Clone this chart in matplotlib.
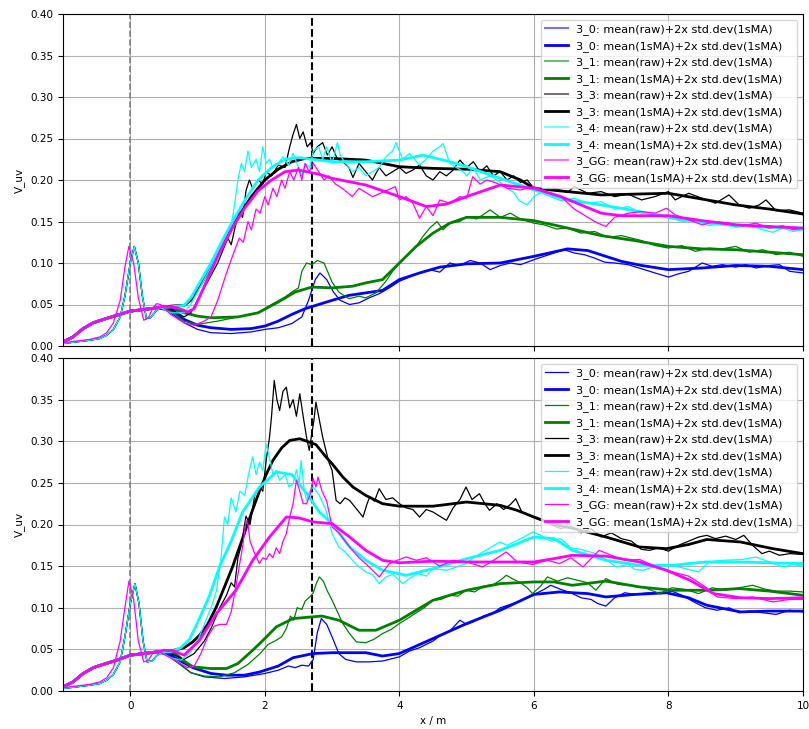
import matplotlib
matplotlib.use('Agg')
import matplotlib.pyplot as plt
import numpy as np

names = ['3_0', '3_1', '3_3', '3_4', '3_GG']
colors = ['blue', 'green', 'black', 'cyan', 'magenta']
x_marks = [0.0, 2.7]

# ---------------- upper panel ----------------
top_start_ma = [(-1.0, 0.005), (-0.85, 0.011), (-0.7, 0.021), (-0.55, 0.028), (-0.4, 0.032), (-0.2, 0.037),
                (0.0, 0.042), (0.2, 0.044), (0.4, 0.046)]
top_start_raw = [(-1.0, 0.003), (-0.8, 0.005), (-0.6, 0.007), (-0.45, 0.009), (-0.35, 0.013), (-0.25, 0.02),
                 (-0.15, 0.035), (-0.08, 0.06), (0.0, 0.1), (0.06, 0.12), (0.12, 0.1), (0.18, 0.06), (0.24, 0.033),
                 (0.3, 0.034), (0.38, 0.042), (0.45, 0.046)]
top_start_raw_gg = [(-1.0, 0.004), (-0.8, 0.006), (-0.6, 0.008), (-0.45, 0.011), (-0.35, 0.016), (-0.25, 0.028),
                    (-0.15, 0.055), (-0.08, 0.095), (-0.02, 0.12), (0.05, 0.1), (0.12, 0.058), (0.2, 0.031),
                    (0.27, 0.034), (0.33, 0.045), (0.39, 0.051)]

top_3_0_ma = [(0.6, 0.043), (0.8, 0.032), (1.0, 0.025), (1.2, 0.022), (1.5, 0.02), (1.8, 0.021), (2.0, 0.024),
              (2.2, 0.03), (2.4, 0.038), (2.6, 0.045), (2.8, 0.05), (3.0, 0.055), (3.25, 0.061), (3.5, 0.064),
              (3.75, 0.067), (4.0, 0.08), (4.3, 0.088), (4.6, 0.095), (5.0, 0.099), (5.5, 0.1), (6.0, 0.108),
              (6.5, 0.117), (6.8, 0.115), (7.3, 0.102), (7.6, 0.097), (8.0, 0.092), (8.5, 0.094), (9.0, 0.097),
              (9.5, 0.096), (10.0, 0.092)]
top_3_0_raw = [(0.6, 0.04), (0.8, 0.028), (1.0, 0.02), (1.2, 0.016), (1.5, 0.015), (1.8, 0.017), (2.0, 0.02),
               (2.2, 0.022), (2.4, 0.027), (2.55, 0.035), (2.65, 0.055), (2.75, 0.08), (2.82, 0.088), (2.92, 0.08),
               (3.02, 0.065), (3.12, 0.055), (3.26, 0.05), (3.4, 0.052), (3.55, 0.058), (3.7, 0.063), (3.85, 0.07),
               (4.0, 0.078), (4.15, 0.083), (4.3, 0.088), (4.45, 0.092), (4.6, 0.089), (4.75, 0.1), (4.9, 0.097),
               (5.05, 0.103), (5.2, 0.1), (5.35, 0.092), (5.5, 0.097), (5.65, 0.1), (5.8, 0.098), (6.0, 0.104),
               (6.15, 0.108), (6.3, 0.112), (6.45, 0.116), (6.6, 0.112), (6.75, 0.11), (6.9, 0.106), (7.05, 0.101),
               (7.2, 0.1), (7.4, 0.098), (7.6, 0.093), (7.8, 0.088), (8.0, 0.083), (8.15, 0.087), (8.3, 0.09),
               (8.5, 0.1), (8.65, 0.096), (8.8, 0.098), (9.0, 0.095), (9.15, 0.098), (9.3, 0.094), (9.5, 0.097),
               (9.65, 0.098), (9.8, 0.09), (10.0, 0.088)]

top_3_1_ma = [(0.6, 0.046), (0.8, 0.04), (1.0, 0.036), (1.2, 0.034), (1.6, 0.035), (1.9, 0.04), (2.2, 0.053),
              (2.45, 0.065), (2.7, 0.071), (3.0, 0.07), (3.3, 0.072), (3.5, 0.076), (3.75, 0.08), (4.0, 0.1),
              (4.25, 0.12), (4.5, 0.136), (4.75, 0.148), (5.0, 0.155), (5.5, 0.155), (6.0, 0.151), (6.4, 0.144),
              (7.0, 0.133), (7.5, 0.127), (8.0, 0.12), (8.5, 0.117), (9.0, 0.116), (9.5, 0.113), (10.0, 0.11)]
top_3_1_raw = [(0.6, 0.042), (0.8, 0.03), (1.0, 0.026), (1.3, 0.03), (1.6, 0.035), (1.9, 0.04), (2.1, 0.05),
               (2.3, 0.059), (2.42, 0.066), (2.5, 0.07), (2.55, 0.09), (2.62, 0.1), (2.7, 0.098), (2.78, 0.103),
               (2.88, 0.1), (3.0, 0.077), (3.1, 0.065), (3.25, 0.057), (3.4, 0.06), (3.5, 0.058), (3.65, 0.064),
               (3.8, 0.078), (3.9, 0.09), (4.0, 0.1), (4.1, 0.108), (4.25, 0.12), (4.35, 0.132), (4.45, 0.142),
               (4.56, 0.15), (4.65, 0.14), (4.75, 0.148), (4.9, 0.15), (5.0, 0.156), (5.15, 0.153), (5.35, 0.164),
               (5.5, 0.155), (5.65, 0.16), (5.8, 0.153), (6.0, 0.148), (6.15, 0.146), (6.33, 0.141), (6.5, 0.142),
               (6.7, 0.136), (6.9, 0.138), (7.1, 0.131), (7.3, 0.133), (7.6, 0.127), (7.8, 0.121), (8.0, 0.118),
               (8.2, 0.121), (8.4, 0.114), (8.6, 0.118), (8.8, 0.117), (9.0, 0.12), (9.2, 0.113), (9.4, 0.116),
               (9.6, 0.11), (9.8, 0.113), (10.0, 0.108)]

top_3_3_ma = [(0.6, 0.048), (0.8, 0.049), (0.9, 0.055), (1.0, 0.068), (1.2, 0.095), (1.4, 0.125), (1.6, 0.155),
              (1.8, 0.18), (2.0, 0.2), (2.2, 0.213), (2.4, 0.222), (2.6, 0.226), (2.8, 0.226), (3.0, 0.226),
              (3.5, 0.224), (4.0, 0.216), (4.5, 0.214), (5.0, 0.213), (5.5, 0.21), (5.8, 0.2), (6.0, 0.19),
              (6.5, 0.186), (7.0, 0.182), (7.5, 0.183), (8.0, 0.184), (8.5, 0.177), (9.0, 0.17), (9.5, 0.165),
              (10.0, 0.159)]
top_3_3_raw = [(0.6, 0.045), (0.8, 0.035), (0.9, 0.04), (1.0, 0.055), (1.1, 0.07), (1.2, 0.085), (1.3, 0.1),
               (1.4, 0.12), (1.45, 0.13), (1.5, 0.122), (1.55, 0.14), (1.62, 0.163), (1.67, 0.155), (1.72, 0.187),
               (1.77, 0.2), (1.82, 0.19), (1.9, 0.2), (1.97, 0.195), (2.02, 0.21), (2.1, 0.205), (2.2, 0.218),
               (2.3, 0.215), (2.37, 0.24), (2.42, 0.255), (2.47, 0.267), (2.52, 0.25), (2.57, 0.258), (2.63, 0.24),
               (2.68, 0.245), (2.72, 0.232), (2.78, 0.24), (2.86, 0.245), (2.93, 0.23), (3.0, 0.24), (3.08, 0.225),
               (3.16, 0.222), (3.25, 0.215), (3.31, 0.203), (3.4, 0.22), (3.5, 0.21), (3.6, 0.2), (3.7, 0.215),
               (3.8, 0.205), (3.9, 0.21), (4.0, 0.215), (4.1, 0.208), (4.2, 0.212), (4.3, 0.218), (4.4, 0.205),
               (4.5, 0.2), (4.6, 0.21), (4.7, 0.205), (4.8, 0.212), (4.9, 0.224), (5.0, 0.215), (5.1, 0.222),
               (5.2, 0.21), (5.3, 0.217), (5.4, 0.205), (5.5, 0.21), (5.6, 0.2), (5.7, 0.205), (5.8, 0.197),
               (5.9, 0.2), (6.0, 0.19), (6.1, 0.188), (6.3, 0.19), (6.5, 0.185), (6.6, 0.192), (6.8, 0.184),
               (7.0, 0.186), (7.2, 0.18), (7.4, 0.183), (7.6, 0.176), (7.8, 0.18), (8.0, 0.186), (8.1, 0.176),
               (8.3, 0.184), (8.5, 0.178), (8.7, 0.172), (8.9, 0.182), (9.05, 0.17), (9.2, 0.166), (9.35, 0.17),
               (9.45, 0.176), (9.6, 0.163), (9.8, 0.164), (10.0, 0.16)]

top_3_4_ma = [(0.6, 0.047), (0.8, 0.049), (0.9, 0.058), (1.0, 0.072), (1.2, 0.1), (1.4, 0.132), (1.52, 0.15),
              (1.7, 0.175), (1.9, 0.2), (2.1, 0.215), (2.3, 0.225), (2.5, 0.227), (2.7, 0.225), (3.0, 0.222),
              (3.5, 0.222), (4.0, 0.224), (4.35, 0.23), (4.75, 0.222), (5.0, 0.216), (5.5, 0.202), (6.0, 0.188),
              (6.5, 0.176), (7.0, 0.17), (7.5, 0.163), (8.0, 0.155), (8.5, 0.149), (9.0, 0.145), (9.5, 0.143),
              (10.0, 0.142)]
top_3_4_raw = [(0.6, 0.04), (0.8, 0.04), (0.9, 0.05), (1.0, 0.065), (1.2, 0.095), (1.4, 0.13), (1.5, 0.145),
               (1.55, 0.17), (1.6, 0.2), (1.65, 0.22), (1.7, 0.21), (1.75, 0.235), (1.8, 0.215), (1.87, 0.225),
               (1.92, 0.21), (1.97, 0.24), (2.02, 0.22), (2.07, 0.225), (2.12, 0.215), (2.2, 0.22), (2.27, 0.228),
               (2.35, 0.218), (2.42, 0.232), (2.5, 0.215), (2.55, 0.205), (2.6, 0.22), (2.67, 0.215), (2.72, 0.235),
               (2.8, 0.24), (2.86, 0.225), (2.92, 0.24), (3.0, 0.22), (3.08, 0.245), (3.12, 0.23), (3.2, 0.22),
               (3.3, 0.21), (3.4, 0.215), (3.5, 0.205), (3.6, 0.21), (3.7, 0.215), (3.8, 0.228), (3.9, 0.235),
               (3.95, 0.245), (4.05, 0.225), (4.15, 0.232), (4.3, 0.218), (4.4, 0.225), (4.5, 0.235), (4.6, 0.24),
               (4.65, 0.244), (4.75, 0.22), (4.85, 0.215), (4.95, 0.21), (5.0, 0.205), (5.1, 0.215), (5.2, 0.2),
               (5.35, 0.205), (5.5, 0.197), (5.6, 0.19), (5.7, 0.185), (5.78, 0.175), (5.9, 0.17), (6.0, 0.18),
               (6.1, 0.185), (6.25, 0.18), (6.4, 0.175), (6.6, 0.178), (6.8, 0.172), (7.0, 0.174), (7.2, 0.165),
               (7.4, 0.168), (7.6, 0.16), (7.8, 0.158), (8.0, 0.155), (8.2, 0.15), (8.4, 0.152), (8.6, 0.145),
               (8.8, 0.148), (9.0, 0.143), (9.2, 0.146), (9.4, 0.14), (9.55, 0.137), (9.7, 0.142), (9.85, 0.138),
               (10.0, 0.14)]

top_3_gg_ma = [(0.5, 0.048), (0.7, 0.046), (0.85, 0.041), (0.95, 0.045), (1.1, 0.072), (1.3, 0.108), (1.5, 0.14),
               (1.7, 0.166), (1.9, 0.187), (2.1, 0.2), (2.3, 0.21), (2.5, 0.212), (2.8, 0.207), (3.0, 0.202),
               (3.5, 0.194), (4.0, 0.18), (4.4, 0.168), (4.7, 0.171), (5.0, 0.18), (5.5, 0.194), (6.0, 0.19),
               (6.4, 0.18), (6.7, 0.17), (7.0, 0.16), (7.3, 0.157), (8.0, 0.157), (8.5, 0.151), (9.0, 0.146),
               (9.5, 0.144), (10.0, 0.142)]
top_3_gg_raw = [(0.45, 0.05), (0.6, 0.038), (0.8, 0.028), (0.95, 0.025), (1.1, 0.03), (1.2, 0.035), (1.3, 0.055),
                (1.43, 0.088), (1.55, 0.115), (1.62, 0.13), (1.68, 0.125), (1.75, 0.15), (1.8, 0.14), (1.87, 0.165),
                (1.93, 0.16), (2.0, 0.18), (2.05, 0.17), (2.12, 0.19), (2.18, 0.18), (2.25, 0.2), (2.3, 0.19),
                (2.37, 0.21), (2.43, 0.2), (2.5, 0.215), (2.55, 0.2), (2.6, 0.22), (2.66, 0.21), (2.72, 0.22),
                (2.8, 0.21), (2.88, 0.2), (2.95, 0.205), (3.05, 0.195), (3.15, 0.19), (3.3, 0.18), (3.4, 0.19),
                (3.5, 0.185), (3.6, 0.18), (3.75, 0.185), (3.94, 0.192), (4.0, 0.176), (4.1, 0.18), (4.2, 0.172),
                (4.3, 0.154), (4.4, 0.168), (4.5, 0.157), (4.6, 0.176), (4.75, 0.172), (4.9, 0.18), (5.0, 0.178),
                (5.09, 0.204), (5.2, 0.195), (5.3, 0.2), (5.45, 0.196), (5.6, 0.19), (5.8, 0.188), (6.0, 0.192),
                (6.2, 0.185), (6.4, 0.18), (6.6, 0.165), (6.8, 0.155), (6.95, 0.148), (7.07, 0.144), (7.2, 0.155),
                (7.4, 0.16), (7.6, 0.162), (7.8, 0.16), (7.97, 0.166), (8.1, 0.158), (8.3, 0.152), (8.5, 0.146),
                (8.7, 0.15), (8.9, 0.148), (9.1, 0.145), (9.3, 0.148), (9.5, 0.142), (9.7, 0.145), (9.85, 0.14),
                (10.0, 0.142)]

# ---------------- lower panel ----------------
bot_start_ma = [(-1.0, 0.005), (-0.85, 0.011), (-0.7, 0.021), (-0.55, 0.028), (-0.4, 0.032), (-0.2, 0.037),
                (0.0, 0.043), (0.2, 0.045), (0.4, 0.047)]
bot_start_raw = [(-1.0, 0.003), (-0.8, 0.005), (-0.6, 0.007), (-0.45, 0.009), (-0.35, 0.013), (-0.25, 0.02),
                 (-0.15, 0.035), (-0.08, 0.065), (0.0, 0.105), (0.07, 0.129), (0.13, 0.105), (0.19, 0.06),
                 (0.25, 0.035), (0.32, 0.036), (0.4, 0.043), (0.47, 0.046)]
bot_start_raw_gg = [(-1.0, 0.004), (-0.8, 0.006), (-0.6, 0.008), (-0.45, 0.011), (-0.35, 0.016), (-0.25, 0.028),
                    (-0.15, 0.06), (-0.08, 0.1), (-0.02, 0.132), (0.05, 0.11), (0.12, 0.06), (0.2, 0.035),
                    (0.27, 0.037), (0.33, 0.045), (0.42, 0.048)]

bot_3_0_ma = [(0.6, 0.043), (0.75, 0.036), (0.93, 0.028), (1.2, 0.021), (1.43, 0.019), (1.7, 0.019), (1.93, 0.023),
              (2.2, 0.03), (2.42, 0.04), (2.72, 0.045), (3.0, 0.046), (3.5, 0.046), (3.75, 0.042), (4.0, 0.045),
              (4.25, 0.054), (4.5, 0.063), (5.0, 0.081), (5.5, 0.097), (6.0, 0.116), (6.38, 0.119), (6.8, 0.117),
              (7.07, 0.113), (7.5, 0.116), (7.97, 0.118), (8.3, 0.112), (8.57, 0.103), (9.07, 0.095), (9.5, 0.096),
              (10.0, 0.096)]
bot_3_0_raw = [(0.6, 0.04), (0.75, 0.032), (0.9, 0.022), (1.1, 0.017), (1.4, 0.015), (1.7, 0.017), (2.0, 0.021),
               (2.2, 0.025), (2.35, 0.03), (2.45, 0.028), (2.55, 0.031), (2.65, 0.03), (2.72, 0.038), (2.78, 0.07),
               (2.84, 0.087), (2.92, 0.08), (3.0, 0.065), (3.1, 0.045), (3.2, 0.038), (3.36, 0.035), (3.55, 0.035),
               (3.75, 0.036), (4.0, 0.041), (4.15, 0.048), (4.3, 0.052), (4.5, 0.06), (4.6, 0.066), (4.75, 0.072),
               (4.9, 0.085), (5.0, 0.08), (5.1, 0.083), (5.25, 0.09), (5.4, 0.094), (5.5, 0.1), (5.65, 0.104),
               (5.8, 0.108), (6.0, 0.116), (6.15, 0.122), (6.25, 0.127), (6.4, 0.122), (6.55, 0.118), (6.7, 0.112),
               (6.85, 0.11), (6.95, 0.105), (7.07, 0.102), (7.2, 0.112), (7.35, 0.118), (7.5, 0.116), (7.7, 0.118),
               (7.9, 0.117), (8.05, 0.12), (8.2, 0.115), (8.4, 0.106), (8.55, 0.1), (8.72, 0.097), (8.9, 0.1),
               (9.05, 0.094), (9.2, 0.096), (9.4, 0.094), (9.6, 0.092), (9.8, 0.097), (10.0, 0.095)]

bot_3_1_ma = [(0.55, 0.047), (0.67, 0.045), (0.8, 0.036), (0.93, 0.029), (1.2, 0.027), (1.43, 0.027), (1.6, 0.033),
              (1.82, 0.049), (2.0, 0.063), (2.17, 0.077), (2.42, 0.087), (2.7, 0.089), (2.85, 0.09), (3.1, 0.085),
              (3.4, 0.073), (3.65, 0.073), (4.0, 0.085), (4.5, 0.109), (5.0, 0.121), (5.5, 0.129), (6.0, 0.131),
              (6.3, 0.131), (6.57, 0.127), (7.07, 0.132), (7.57, 0.125), (8.06, 0.121), (8.6, 0.121), (9.05, 0.123),
              (9.5, 0.12), (10.0, 0.115)]
bot_3_1_raw = [(0.6, 0.04), (0.75, 0.031), (0.9, 0.022), (1.1, 0.018), (1.33, 0.017), (1.55, 0.022), (1.75, 0.032),
               (1.93, 0.045), (2.05, 0.056), (2.15, 0.06), (2.25, 0.065), (2.32, 0.075), (2.38, 0.09), (2.43, 0.085),
               (2.48, 0.1), (2.55, 0.098), (2.6, 0.108), (2.67, 0.113), (2.72, 0.118), (2.77, 0.13), (2.81, 0.137),
               (2.87, 0.132), (2.93, 0.12), (3.0, 0.109), (3.08, 0.095), (3.16, 0.081), (3.25, 0.07), (3.36, 0.059),
               (3.5, 0.058), (3.62, 0.062), (3.75, 0.069), (3.88, 0.074), (4.0, 0.081), (4.12, 0.087), (4.25, 0.094),
               (4.37, 0.1), (4.5, 0.109), (4.62, 0.11), (4.75, 0.115), (4.87, 0.114), (4.99, 0.121), (5.12, 0.119),
               (5.25, 0.126), (5.4, 0.128), (5.5, 0.133), (5.59, 0.139), (5.7, 0.134), (5.8, 0.13), (5.9, 0.124),
               (5.98, 0.117), (6.1, 0.126), (6.2, 0.137), (6.35, 0.132), (6.5, 0.136), (6.65, 0.133), (6.8, 0.13),
               (6.92, 0.121), (7.07, 0.135), (7.25, 0.128), (7.45, 0.127), (7.65, 0.124), (7.87, 0.117),
               (8.05, 0.124), (8.25, 0.122), (8.45, 0.117), (8.65, 0.124), (8.85, 0.121), (9.05, 0.124),
               (9.25, 0.127), (9.45, 0.122), (9.6, 0.12), (9.8, 0.12), (10.0, 0.119)]

bot_3_3_ma = [(0.6, 0.048), (0.8, 0.052), (0.93, 0.059), (1.03, 0.067), (1.15, 0.08), (1.28, 0.101), (1.4, 0.125),
              (1.52, 0.149), (1.62, 0.172), (1.72, 0.195), (1.82, 0.218), (1.92, 0.24), (2.02, 0.26), (2.12, 0.277),
              (2.25, 0.292), (2.37, 0.301), (2.52, 0.303), (2.66, 0.299), (2.76, 0.296), (2.91, 0.281),
              (3.0, 0.273), (3.16, 0.257), (3.31, 0.245), (3.5, 0.235), (3.75, 0.225), (4.0, 0.222), (4.5, 0.222),
              (5.0, 0.227), (5.25, 0.225), (5.5, 0.223), (5.75, 0.217), (6.0, 0.209), (6.3, 0.2), (6.6, 0.195),
              (7.07, 0.185), (7.57, 0.173), (7.97, 0.171), (8.3, 0.176), (8.57, 0.182), (9.07, 0.179),
              (9.55, 0.171), (10.0, 0.165)]
bot_3_3_raw = [(0.6, 0.045), (0.8, 0.038), (0.95, 0.045), (1.1, 0.06), (1.2, 0.075), (1.33, 0.1), (1.43, 0.115),
               (1.5, 0.13), (1.55, 0.125), (1.6, 0.16), (1.65, 0.175), (1.72, 0.21), (1.78, 0.2), (1.85, 0.235),
               (1.92, 0.245), (1.97, 0.24), (2.02, 0.277), (2.07, 0.305), (2.1, 0.33), (2.14, 0.373), (2.18, 0.35),
               (2.22, 0.337), (2.27, 0.36), (2.32, 0.365), (2.37, 0.34), (2.42, 0.35), (2.47, 0.33), (2.52, 0.357),
               (2.57, 0.33), (2.62, 0.305), (2.66, 0.289), (2.7, 0.31), (2.73, 0.325), (2.76, 0.347), (2.8, 0.33),
               (2.86, 0.305), (2.92, 0.285), (2.96, 0.273), (3.0, 0.265), (3.06, 0.229), (3.12, 0.225),
               (3.19, 0.232), (3.26, 0.229), (3.33, 0.222), (3.4, 0.215), (3.46, 0.209), (3.52, 0.225),
               (3.56, 0.233), (3.63, 0.228), (3.7, 0.243), (3.8, 0.23), (3.9, 0.232), (4.0, 0.225), (4.1, 0.22),
               (4.2, 0.218), (4.3, 0.209), (4.4, 0.218), (4.5, 0.215), (4.6, 0.21), (4.7, 0.205), (4.8, 0.22),
               (4.9, 0.23), (4.99, 0.245), (5.08, 0.23), (5.19, 0.237), (5.27, 0.225), (5.34, 0.217),
               (5.45, 0.225), (5.55, 0.218), (5.65, 0.224), (5.73, 0.231), (5.82, 0.215), (5.9, 0.212),
               (5.98, 0.209), (6.1, 0.205), (6.25, 0.2), (6.4, 0.195), (6.55, 0.198), (6.7, 0.19), (6.85, 0.195),
               (7.0, 0.185), (7.15, 0.19), (7.3, 0.183), (7.45, 0.18), (7.6, 0.17), (7.72, 0.169), (7.85, 0.172),
               (8.0, 0.168), (8.15, 0.175), (8.3, 0.18), (8.45, 0.185), (8.57, 0.187), (8.7, 0.183), (8.85, 0.186),
               (9.0, 0.182), (9.12, 0.187), (9.25, 0.175), (9.39, 0.165), (9.5, 0.168), (9.65, 0.163),
               (9.8, 0.165), (10.0, 0.164)]

bot_3_4_ma = [(0.6, 0.047), (0.75, 0.052), (0.88, 0.062), (1.0, 0.082), (1.18, 0.115), (1.33, 0.15), (1.5, 0.18),
              (1.67, 0.215), (1.92, 0.245), (2.17, 0.263), (2.4, 0.26), (2.66, 0.233), (2.81, 0.215), (3.0, 0.201),
              (3.26, 0.173), (3.5, 0.157), (3.75, 0.145), (4.1, 0.139), (4.5, 0.147), (5.0, 0.159), (5.5, 0.169),
              (6.0, 0.185), (6.3, 0.183), (6.57, 0.169), (7.07, 0.157), (7.57, 0.151), (8.06, 0.151),
              (8.55, 0.155), (9.05, 0.155), (9.5, 0.154), (10.0, 0.153)]
bot_3_4_raw = [(0.6, 0.04), (0.75, 0.037), (0.88, 0.045), (1.0, 0.06), (1.1, 0.08), (1.2, 0.1), (1.28, 0.12),
               (1.35, 0.16), (1.4, 0.209), (1.45, 0.2), (1.5, 0.232), (1.57, 0.215), (1.63, 0.24), (1.7, 0.235),
               (1.77, 0.265), (1.82, 0.281), (1.87, 0.26), (1.92, 0.275), (1.97, 0.265), (2.02, 0.297),
               (2.07, 0.28), (2.12, 0.26), (2.17, 0.265), (2.22, 0.253), (2.3, 0.26), (2.36, 0.245), (2.42, 0.249),
               (2.47, 0.266), (2.51, 0.25), (2.54, 0.277), (2.58, 0.245), (2.62, 0.229), (2.67, 0.24), (2.72, 0.245),
               (2.81, 0.235), (2.91, 0.217), (3.0, 0.189), (3.1, 0.173), (3.18, 0.168), (3.26, 0.161),
               (3.36, 0.152), (3.5, 0.143), (3.6, 0.14), (3.7, 0.129), (3.8, 0.137), (3.9, 0.14), (4.05, 0.129),
               (4.15, 0.135), (4.27, 0.141), (4.4, 0.138), (4.5, 0.147), (4.7, 0.145), (4.85, 0.149), (4.99, 0.153),
               (5.1, 0.16), (5.24, 0.167), (5.35, 0.172), (5.49, 0.179), (5.6, 0.175), (5.73, 0.18), (5.85, 0.185),
               (5.98, 0.191), (6.1, 0.187), (6.25, 0.18), (6.4, 0.183), (6.55, 0.172), (6.7, 0.17), (6.92, 0.165),
               (7.07, 0.158), (7.22, 0.149), (7.4, 0.152), (7.5, 0.146), (7.63, 0.145), (7.8, 0.15), (8.0, 0.152),
               (8.2, 0.148), (8.45, 0.143), (8.6, 0.155), (8.8, 0.157), (9.1, 0.158), (9.3, 0.161), (9.5, 0.155),
               (9.71, 0.149), (9.85, 0.152), (10.0, 0.15)]

bot_3_gg_ma = [(0.5, 0.049), (0.65, 0.048), (0.8, 0.043), (1.03, 0.061), (1.28, 0.093), (1.57, 0.121),
               (1.82, 0.157), (2.07, 0.185), (2.32, 0.209), (2.5, 0.208), (2.72, 0.203), (3.0, 0.201),
               (3.26, 0.185), (3.5, 0.169), (3.75, 0.157), (4.0, 0.154), (4.5, 0.156), (5.0, 0.155), (5.5, 0.155),
               (6.0, 0.155), (6.3, 0.159), (6.57, 0.163), (7.07, 0.162), (7.57, 0.155), (7.97, 0.145),
               (8.32, 0.133), (8.67, 0.117), (9.07, 0.112), (9.5, 0.111), (10.0, 0.112)]
bot_3_gg_raw = [(0.55, 0.042), (0.7, 0.035), (0.85, 0.028), (0.95, 0.03), (1.05, 0.045), (1.15, 0.065),
                (1.25, 0.078), (1.33, 0.08), (1.43, 0.08), (1.5, 0.095), (1.57, 0.125), (1.62, 0.15), (1.67, 0.173),
                (1.72, 0.205), (1.75, 0.2), (1.78, 0.18), (1.85, 0.165), (1.92, 0.153), (1.97, 0.16), (2.02, 0.158),
                (2.07, 0.165), (2.12, 0.16), (2.17, 0.172), (2.22, 0.165), (2.27, 0.18), (2.32, 0.189),
                (2.37, 0.209), (2.42, 0.225), (2.47, 0.253), (2.52, 0.24), (2.57, 0.225), (2.62, 0.225),
                (2.67, 0.235), (2.72, 0.255), (2.76, 0.245), (2.79, 0.257), (2.85, 0.24), (2.92, 0.228),
                (3.0, 0.197), (3.1, 0.19), (3.26, 0.173), (3.4, 0.16), (3.5, 0.153), (3.6, 0.145), (3.7, 0.137),
                (3.85, 0.153), (4.0, 0.158), (4.1, 0.161), (4.25, 0.157), (4.4, 0.16), (4.6, 0.15), (4.8, 0.157),
                (5.0, 0.155), (5.24, 0.149), (5.4, 0.157), (5.59, 0.167), (5.75, 0.155), (5.98, 0.152),
                (6.2, 0.157), (6.38, 0.153), (6.55, 0.16), (6.73, 0.149), (6.97, 0.169), (7.15, 0.163),
                (7.35, 0.157), (7.57, 0.158), (7.8, 0.15), (8.06, 0.143), (8.3, 0.138), (8.55, 0.125),
                (8.72, 0.113), (9.0, 0.111), (9.25, 0.113), (9.55, 0.107), (9.8, 0.11), (10.0, 0.11)]

top_raw = [top_start_raw + top_3_0_raw, top_start_raw + top_3_1_raw, top_start_raw + top_3_3_raw,
           top_start_raw + top_3_4_raw, top_start_raw_gg + top_3_gg_raw]
top_ma = [top_start_ma + s for s in (top_3_0_ma, top_3_1_ma, top_3_3_ma, top_3_4_ma, top_3_gg_ma)]
bot_raw = [bot_start_raw + bot_3_0_raw, bot_start_raw + bot_3_1_raw, bot_start_raw + bot_3_3_raw,
           bot_start_raw + bot_3_4_raw, bot_start_raw_gg + bot_3_gg_raw]
bot_ma = [bot_start_ma + s for s in (bot_3_0_ma, bot_3_1_ma, bot_3_3_ma, bot_3_4_ma, bot_3_gg_ma)]


def draw_panel(ax, raw, ma):
    ax.axvline(x_marks[0], color='gray', linestyle='--', lw=1.2)
    ax.axvline(x_marks[1], color='black', linestyle='--', lw=1.5)
    for name, color, r, m in zip(names, colors, raw, ma):
        r = np.array(r)
        m = np.array(m)
        ax.plot(r[:, 0], r[:, 1], color=color, lw=0.9, label=f'{name}: mean(raw)+2x std.dev(1sMA)')
        ax.plot(m[:, 0], m[:, 1], color=color, lw=2.0, label=f'{name}: mean(1sMA)+2x std.dev(1sMA)')
    ax.set_xlim(-1, 10)
    ax.set_ylim(0.0, 0.40)
    ax.set_yticks(np.arange(0, 0.401, 0.05))
    ax.yaxis.set_major_formatter(matplotlib.ticker.FormatStrFormatter('%.2f'))
    ax.grid(True, lw=0.8)
    ax.set_ylabel('V_uv', fontsize=7.5)
    ax.tick_params(labelsize=7.5)
    leg = ax.legend(loc='upper right', fontsize=8.1)
    return leg


fig = plt.figure(figsize=(8.09, 7.29), dpi=100)
ax1 = fig.add_axes([63 / 809, 1 - 346 / 729, 740 / 809, 332 / 729])
ax2 = fig.add_axes([63 / 809, 1 - 691 / 729, 740 / 809, 333 / 729], sharex=ax1)

leg1 = draw_panel(ax1, top_raw, top_ma)
# raw entries of the upper legend look lighter
for i, h in enumerate(leg1.legend_handles):
    if i % 2 == 0:
        h.set_alpha(0.55)
        h.set_linewidth(1.5)
draw_panel(ax2, bot_raw, bot_ma)

ax1.tick_params(labelbottom=False)
ax2.set_xticks([0, 2, 4, 6, 8, 10])
ax2.set_xlabel('x / m', fontsize=7.5)

fig.savefig('out.png', dpi=100)
